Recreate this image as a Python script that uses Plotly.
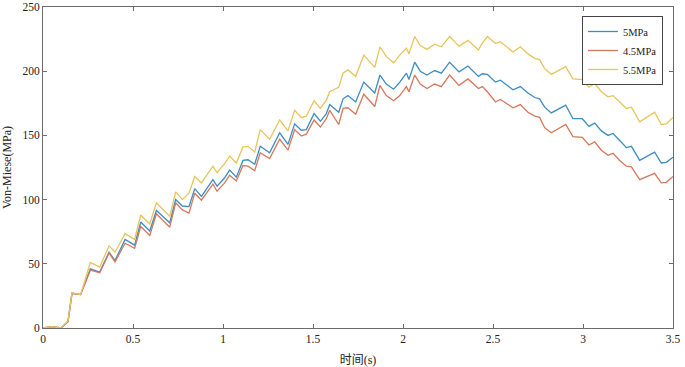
import plotly.graph_objects as go

# tiempo (s)
t = [0, 0.05, 0.10, 0.139, 0.161, 0.209, 0.263, 0.315, 0.367, 0.40, 0.456, 0.509, 0.543, 0.593,
     0.63, 0.704, 0.737, 0.774, 0.811, 0.843, 0.88, 0.944, 0.967, 1.009, 1.037, 1.074, 1.111,
     1.139, 1.176, 1.207, 1.259, 1.315, 1.361, 1.398, 1.435, 1.463, 1.506, 1.541, 1.574, 1.593,
     1.643, 1.667, 1.694, 1.737, 1.782, 1.843, 1.872, 1.907, 1.948, 1.982, 2.019, 2.033, 2.065,
     2.096, 2.133, 2.176, 2.213, 2.259, 2.311, 2.361, 2.419, 2.441, 2.469, 2.514, 2.541, 2.611,
     2.652, 2.694, 2.732, 2.759, 2.787, 2.824, 2.904, 2.944, 2.996, 3.033, 3.065, 3.102, 3.139,
     3.167, 3.204, 3.241, 3.269, 3.315, 3.398, 3.435, 3.463, 3.5]

s_5 = [0, 1, 0, 5, 27, 26, 46, 43.5, 59, 52.5, 69, 64.5, 82.5, 75.5,
       91.5, 82, 100, 95, 94.5, 108.5, 102.5, 115.5, 110.5, 117, 123, 117.5, 130.5,
       131, 127.5, 141.5, 136.5, 152, 143, 159, 154, 154.5, 167, 161, 167, 174,
       168, 178.5, 181, 176, 191.5, 183, 197, 190, 186, 191.5, 198.5, 193.5, 207,
       200, 197, 200.5, 198.5, 207, 199.5, 204, 196, 198, 197.5, 191.5, 193, 185.5,
       188, 183, 179.5, 178.5, 172, 167.5, 173.5, 163, 163, 157, 159.5, 153.5, 150,
       151.5, 146, 140.5, 141.5, 130.5, 137, 128.5, 129, 133]

s_45 = [0, 1, 0, 5, 27, 26, 45, 43, 58.5, 51.5, 66, 62, 79, 72,
        89, 78.5, 97.5, 92, 89.5, 105, 99.5, 112, 106.5, 113, 119, 114.5, 126.5,
        126, 122.5, 136.5, 132, 147, 138.5, 154.5, 149.5, 151, 162, 156.5, 163, 169.5,
        158.5, 171, 171.5, 166.5, 182, 172.5, 189, 181, 177, 181, 188, 184, 197,
        190, 186.5, 190, 188, 197, 189, 194, 186.5, 188, 184, 176, 178, 171.5,
        174, 168, 165, 164, 156, 152, 158.5, 149, 148.5, 142.5, 145, 138.5, 134.5,
        136, 130.5, 126, 125.5, 115.5, 120.5, 113, 113.5, 118]

s_55 = [0, 1, 0, 5.5, 27.5, 26, 51, 47.5, 64, 59, 73.5, 69, 88, 81,
        97.5, 87, 106, 100, 105, 118, 113, 126, 121, 128, 134, 128.5, 141,
        141.5, 137, 154.5, 147, 162, 153.5, 169.5, 164, 165, 177, 171, 177.5, 184,
        187.5, 198.5, 201, 196, 212.5, 203, 219, 211.5, 206.5, 212.5, 218, 213.5, 227,
        220, 217, 221, 219, 227, 219.5, 224, 216.5, 222, 227, 221.5, 223, 215,
        219, 213.5, 210, 209, 202, 197.5, 203.5, 194, 193.5, 187.5, 190.5, 184, 180,
        181, 176, 171, 172, 160.5, 168, 158.5, 159, 164]

nombres = ["5MPa", "4.5MPa", "5.5MPa"]
colores = ["#3d8cc4", "#d4785c", "#e9c45c"]

fuente = "Liberation Serif, Times New Roman, Noto Sans CJK SC, serif"

fig = go.Figure()
for y, n, c in zip([s_5, s_45, s_55], nombres, colores):
    fig.add_trace(go.Scatter(x=t, y=y, mode="lines", name=n,
                             line=dict(color=c, width=1.3)))

ejes = dict(showgrid=False, zeroline=False, showline=True, linecolor="#6b6b6b",
            linewidth=1, mirror="ticks", ticks="inside", ticklen=4, automargin=False,
            tickcolor="#6b6b6b", tickfont=dict(family=fuente, size=11.5, color="#222"))

fig.update_xaxes(range=[0, 3.5], dtick=0.5, **ejes,
                 title=dict(text="时间(s)", font=dict(family=fuente, size=12, color="#222")))
fig.update_yaxes(range=[0, 250], dtick=50, **ejes,
                 title=dict(text="Von-Miese(MPa)", font=dict(family=fuente, size=12, color="#222")))

fig.update_layout(
    width=685, height=367,
    margin=dict(l=43, r=12, t=7, b=39),
    plot_bgcolor="white", paper_bgcolor="white",
    legend=dict(x=0.984, y=0.972, xanchor="right", yanchor="top",
                bordercolor="#444", borderwidth=1, bgcolor="white",
                font=dict(family=fuente, size=10.5, color="#222"),
                tracegroupgap=0, itemwidth=30),
    showlegend=True,
)

# sin margen del body para que la figura quede en (0, 0)
fig.write_html("out.html", config={"displayModeBar": False},
               post_script="document.body.style.margin='0';")
